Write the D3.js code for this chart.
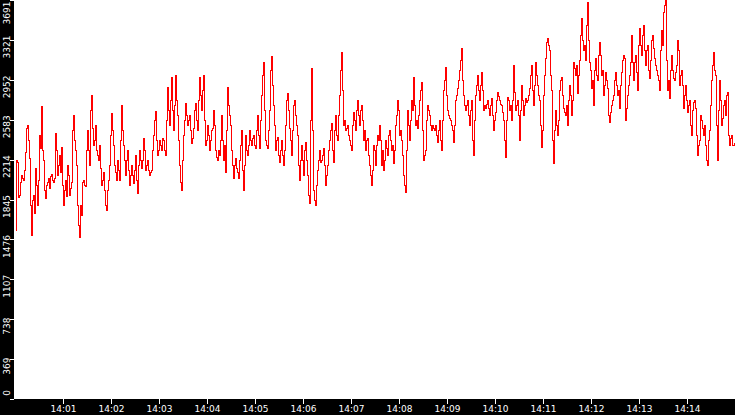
<!DOCTYPE html>
<html>
<head>
<meta charset="utf-8">
<script src="https://cdn.jsdelivr.net/npm/d3@7"></script>
<style>
  html, body { margin: 0; padding: 0; background: #fff; }
  svg { display: block; }
  text { font-family: "DejaVu Sans", sans-serif; font-size: 9px; fill: #fff; }
</style>
</head>
<body>
<div id="chart"></div>
<script>
'use strict';

// samples every 1.25 s from 14:00:00
var values = [
    1563, 2211, 2192, 1869, 1887, 2008, 2072, 2044, 2026, 2118, 2285, 2507, 2535, 2396, 2230, 1797, 1517, 1841, 1887, 1721,
    2137, 1980, 1797, 2026, 2442, 2322, 2710, 2303, 2211, 1933, 1860, 1980, 2008, 2044, 1952, 2063, 2082, 2026, 2008, 2044,
    2461, 2303, 2072, 2165, 2257, 2100, 2331, 1980, 1797, 1933, 2026, 1878, 2165, 2072, 1887, 1952, 2008, 2488, 2627, 2396,
    2303, 2165, 1797, 1610, 1499, 1797, 1702, 2008, 2026, 1980, 1970, 2303, 2488, 2303, 2165, 2673, 2812, 2507, 2350, 2396,
    2535, 2303, 2257, 2211, 2350, 2137, 1980, 2026, 2100, 1933, 1797, 1748, 1933, 2026, 2165, 2442, 2646, 2488, 2350, 2165,
    2100, 2026, 2211, 2118, 2026, 2396, 2720, 2488, 2350, 2211, 2072, 2211, 2303, 2118, 1980, 2072, 2165, 2072, 1998, 2118,
    2257, 2026, 1906, 2165, 2303, 2211, 2137, 2211, 2414, 2303, 2118, 2165, 2211, 2118, 2072, 2100, 2118, 2303, 2442, 2581,
    2664, 2396, 2257, 2303, 2396, 2350, 2303, 2414, 2396, 2303, 2257, 2581, 2886, 2673, 2535, 2766, 2979, 2673, 2488, 2720,
    2997, 2766, 2627, 2396, 2165, 2008, 1933, 2211, 2442, 2581, 2738, 2627, 2535, 2581, 2627, 2488, 2368, 2414, 2507, 2673,
    2738, 2581, 2488, 2766, 2979, 2812, 2673, 2858, 2997, 2581, 2350, 2396, 2535, 2442, 2303, 2396, 2488, 2507, 2673, 2535,
    2303, 2239, 2211, 2303, 2257, 2396, 2627, 2396, 2211, 2350, 2100, 2488, 2886, 2720, 2627, 2535, 2303, 2165, 2044, 2165,
    2230, 2137, 2100, 2044, 2211, 2350, 2488, 2118, 1933, 2165, 2442, 2303, 2257, 2350, 2488, 2396, 2350, 2414, 2442, 2350,
    2322, 2488, 2627, 2442, 2322, 2581, 2812, 2997, 3117, 2673, 2396, 2350, 2322, 2488, 2673, 3043, 3173, 2905, 2720, 2535,
    2303, 2396, 2424, 2257, 2192, 2303, 2396, 2257, 2165, 2303, 2535, 2766, 2831, 2673, 2507, 2396, 2257, 2488, 2720, 2766,
    2627, 2535, 2442, 2165, 2026, 2211, 2350, 2211, 2072, 2303, 2377, 2211, 2072, 1887, 1813, 2581, 3062, 2488, 1933, 1841,
    1797, 1980, 2118, 2211, 2303, 2192, 2211, 2257, 2322, 2165, 1980, 2072, 2165, 2303, 2396, 2488, 2553, 2303, 2192, 2488,
    2627, 2442, 2396, 2627, 2812, 3043, 3210, 2858, 2535, 2581, 2488, 2507, 2535, 2442, 2396, 2350, 2303, 2535, 2655, 2581,
    2488, 2673, 2766, 2627, 2535, 2673, 2720, 2581, 2396, 2488, 2303, 2396, 2414, 2257, 2165, 2072, 1980, 2118, 2350, 2303,
    2165, 2350, 2442, 2396, 2535, 2396, 2165, 2303, 2118, 2211, 2396, 2322, 2257, 2442, 2488, 2396, 2303, 2350, 2183, 2303,
    2535, 2627, 2766, 2673, 2442, 2488, 2396, 2257, 2072, 1980, 1915, 2303, 2673, 2535, 2396, 2581, 2766, 2673, 2979, 2720,
    2535, 2581, 2507, 2627, 2766, 2858, 2933, 2488, 2211, 2257, 2303, 2581, 2720, 2673, 2627, 2535, 2488, 2535, 2507, 2488,
    2535, 2442, 2377, 2488, 2581, 2396, 2303, 2581, 2858, 2951, 3071, 2812, 2673, 2627, 2600, 2581, 2535, 2488, 2377, 2535,
    2766, 2812, 2877, 2951, 3043, 3136, 3247, 2951, 2812, 2720, 2673, 2720, 2766, 2627, 2535, 2673, 2766, 2396, 2257, 2581,
    2812, 2905, 2997, 2858, 2766, 2905, 3025, 2858, 2673, 2720, 2692, 2729, 2766, 2692, 2627, 2720, 2784, 2627, 2488, 2581,
    2655, 2766, 2840, 2803, 2766, 2729, 2720, 2655, 2581, 2396, 2239, 2581, 2794, 2766, 2673, 2720, 2581, 2766, 3090, 2840,
    2673, 2720, 2766, 2627, 2396, 2673, 2905, 2766, 2627, 2720, 2784, 2747, 2766, 2812, 2877, 2997, 3090, 2858, 2720, 2905,
    3117, 2997, 2905, 2812, 2766, 2535, 2331, 2488, 2812, 2997, 3154, 3302, 3340, 3274, 3228, 2997, 2858, 2396, 2183, 2488,
    2673, 2535, 2442, 2581, 2858, 2951, 2979, 2812, 2692, 2655, 2627, 2720, 2535, 2766, 2905, 2812, 2627, 2766, 3117, 3062,
    2997, 3090, 2831, 2997, 3136, 3367, 3525, 3321, 3228, 3274, 3136, 3460, 3673, 3321, 3117, 3043, 2877, 2951, 2720, 3043,
    3154, 2997, 2951, 3182, 3302, 3182, 2997, 3043, 2812, 2905, 3025, 2951, 2877, 2627, 2562, 2655, 2720, 2766, 2812, 2951,
    3025, 2905, 2812, 2858, 2692, 2905, 3025, 3136, 3182, 3154, 2581, 2692, 2812, 2905, 2997, 3117, 3367, 3117, 2951, 3117,
    3182, 3025, 2858, 3274, 3432, 3274, 3182, 3367, 3460, 3228, 3090, 3228, 3274, 3043, 2970, 3136, 3321, 3367, 3247, 3154,
    3090, 3043, 2997, 2951, 2858, 3228, 3413, 3274, 3580, 3645, 3691, 3136, 2858, 2951, 2784, 3043, 3182, 3043, 2970, 2951,
    3025, 3090, 3321, 3228, 2905, 2997, 3043, 2905, 2692, 2812, 2905, 2766, 2655, 2720, 2766, 2535, 2442, 2673, 2747, 2766,
    2692, 2442, 2257, 2350, 2396, 2627, 2581, 2507, 2442, 2535, 2350, 2211, 2165, 2396, 2488, 2720, 2951, 3090, 3210, 3043,
    2997, 2535, 2211, 2673, 2951, 2766, 2535, 2600, 2720, 2766, 2627, 2812, 2840, 2442, 2350, 2414, 2442, 2350, 2350, 2377
];

var yTickLabels = ['0', '369', '738', '1107', '1476', '1845', '2214', '2583', '2952', '3321', '3691'];
var xTickLabels = ['14:01', '14:02', '14:03', '14:04', '14:05', '14:06', '14:07',
                   '14:08', '14:09', '14:10', '14:11', '14:12', '14:13', '14:14'];

var startTime = '14:00:00',
    endTime = '14:15:00',
    sampleMs = 1250;

var width = 735,
    height = 415;

var plotLeft = 15,
    plotBottom = 399;

var parseTime = d3.timeParse('%H:%M:%S'),
    parseTick = d3.timeParse('%H:%M');

var t0 = parseTime(startTime);
var points = values.map(function(v, i) {
    return { t: new Date(t0.getTime() + i * sampleMs), v: v };
});

var yMax = +yTickLabels[yTickLabels.length - 1];

var x = d3.scaleTime()
    .domain([t0, parseTime(endTime)])
    .range([plotLeft, width]);

var y = d3.scaleLinear()
    .domain([0, yMax])
    .range([plotBottom, 0]);

var svg = d3.select('#chart').append('svg')
    .attr('width', width)
    .attr('height', height);

svg.append('rect')
    .attr('x', 0).attr('y', 0)
    .attr('width', width).attr('height', height)
    .attr('fill', '#fff');

svg.append('clipPath').attr('id', 'plot-clip')
    .append('rect')
    .attr('x', plotLeft).attr('y', 0)
    .attr('width', width - plotLeft).attr('height', plotBottom);

var line = d3.line()
    .x(function(d) { return Math.round(x(d.t)) + 0.5; })
    .y(function(d) { return Math.round(y(d.v)) + 0.5; })
    .curve(d3.curveStepAfter);

svg.append('path')
    .datum(points)
    .attr('clip-path', 'url(#plot-clip)')
    .attr('d', line)
    .attr('fill', 'none')
    .attr('stroke', '#ff0000')
    .attr('stroke-width', 1)
    .attr('shape-rendering', 'crispEdges');

// black frame strips
svg.append('rect')
    .attr('x', 0).attr('y', 0)
    .attr('width', plotLeft - 1).attr('height', height)
    .attr('fill', '#000');

svg.append('rect')
    .attr('x', 0).attr('y', plotBottom)
    .attr('width', width).attr('height', height - plotBottom)
    .attr('fill', '#000');

// y axis
var yTicks = svg.append('g').attr('class', 'y-axis')
    .selectAll('g')
    .data(yTickLabels)
    .enter()
    .append('g');

yTicks.append('line')
    .attr('x1', 10).attr('x2', plotLeft - 1)
    .attr('y1', function(d) { return Math.round(y(+d)) + 0.5; })
    .attr('y2', function(d) { return Math.round(y(+d)) + 0.5; })
    .attr('stroke', '#fff')
    .attr('stroke-width', 1)
    .attr('shape-rendering', 'crispEdges');

yTicks.append('text')
    .attr('text-anchor', 'middle')
    .attr('transform', function(d) {
        var c = Math.max(13, Math.min(393, y(+d) + 7));
        return 'translate(9.5,' + c + ') rotate(-90)';
    })
    .text(function(d) { return d; });

// x axis
var xAxis = d3.axisBottom(x)
    .tickValues(xTickLabels.map(function(s) { return parseTick(s); }))
    .tickFormat(d3.timeFormat('%H:%M'))
    .tickSize(5)
    .tickPadding(2);

var gx = svg.append('g')
    .attr('transform', 'translate(0,' + plotBottom + ')')
    .call(xAxis);

gx.select('.domain').remove();
gx.selectAll('line').attr('stroke', '#fff').attr('shape-rendering', 'crispEdges');
gx.selectAll('text')
    .attr('fill', '#fff')
    .style('font-family', '"DejaVu Sans", sans-serif')
    .style('font-size', '9px');
</script>
</body>
</html>
